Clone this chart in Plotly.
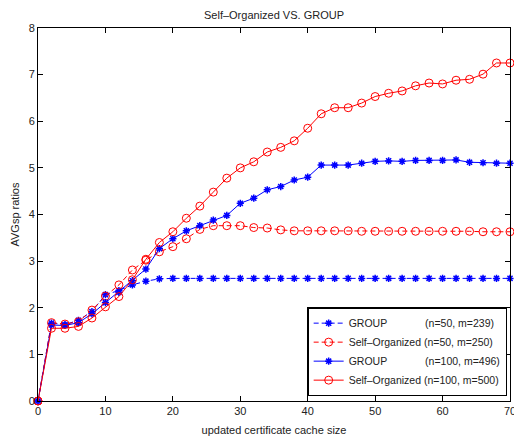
import plotly.graph_objects as go

cache_size = list(range(0, 72, 2))

group_n50 = [0, 1.67, 1.64, 1.73, 1.92, 2.28, 2.37, 2.49, 2.57, 2.62,
             2.63, 2.63, 2.63, 2.63, 2.63, 2.63, 2.63, 2.63, 2.63, 2.63,
             2.63, 2.63, 2.63, 2.63, 2.63, 2.63, 2.63, 2.63, 2.63, 2.63,
             2.63, 2.63, 2.63, 2.63, 2.63, 2.63]
selforg_n50 = [0, 1.68, 1.65, 1.70, 1.95, 2.25, 2.49, 2.81, 3.02, 3.20,
               3.31, 3.48, 3.68, 3.76, 3.76, 3.76, 3.72, 3.71, 3.67, 3.65,
               3.65, 3.65, 3.65, 3.65, 3.64, 3.64, 3.64, 3.64, 3.64, 3.64,
               3.64, 3.64, 3.64, 3.63, 3.63, 3.63]
group_n100 = [0, 1.63, 1.62, 1.68, 1.87, 2.11, 2.33, 2.58, 2.83, 3.27,
              3.48, 3.65, 3.76, 3.88, 3.98, 4.24, 4.35, 4.53, 4.60, 4.74,
              4.80, 5.06, 5.06, 5.06, 5.10, 5.14, 5.15, 5.14, 5.16, 5.16,
              5.16, 5.17, 5.12, 5.11, 5.10, 5.10]
selforg_n100 = [0, 1.56, 1.56, 1.60, 1.78, 2.02, 2.24, 2.60, 3.04, 3.40,
                3.63, 3.92, 4.18, 4.48, 4.78, 5.00, 5.13, 5.34, 5.44, 5.58,
                5.85, 6.16, 6.29, 6.29, 6.39, 6.53, 6.60, 6.65, 6.76, 6.82,
                6.80, 6.88, 6.90, 7.01, 7.25, 7.25]

NB = "\u00a0"
names = [
    "GROUP" + NB * 13 + "(n=50, m=239)",
    "Self\u2013Organized (n=50, m=250)",
    "GROUP" + NB * 13 + "(n=100, m=496)",
    "Self\u2013Organized (n=100, m=500)",
]

BLUE = "#0000ff"
RED = "#ff0000"

fig = go.Figure()
series = [
    (group_n50, names[0], BLUE, "asterisk-open", "5px,3px", 6),
    (selforg_n50, names[1], RED, "circle-open", "5px,3px", 8),
    (group_n100, names[2], BLUE, "asterisk-open", "solid", 6),
    (selforg_n100, names[3], RED, "circle-open", "solid", 8),
]
for ys, name, col, sym, dash, size in series:
    fig.add_trace(go.Scatter(
        x=cache_size, y=ys, name=name, mode="lines+markers",
        line=dict(color=col, width=1, dash=dash),
        marker=dict(symbol=sym, size=size, color=col,
                    line=dict(color=col, width=1.5 if "asterisk" in sym else 1)),
        cliponaxis=False,
    ))

axis_common = dict(
    showline=True, linecolor="black", linewidth=1, mirror="ticks",
    ticks="inside", ticklen=5, tickcolor="black", showgrid=False,
    zeroline=False, tickfont=dict(size=11, color="#222"), automargin=False,
    ticklabeloverflow="allow",
)

fig.update_layout(
    width=514, height=437,
    margin=dict(l=38, r=4, t=28, b=36),
    paper_bgcolor="white", plot_bgcolor="white",
    font=dict(family="Liberation Sans, Arial, sans-serif", size=11, color="#222"),
    title=dict(text="Self\u2013Organized VS. GROUP", x=0.5, xref="paper",
               y=1, yref="container", yanchor="top", pad=dict(t=11),
               font=dict(size=11, color="#222"), automargin=False),
    xaxis=dict(range=[0, 70], dtick=10, tick0=0,
               title=dict(text="updated certificate cache size", standoff=10,
                          font=dict(size=11)),
               **axis_common),
    yaxis=dict(range=[0, 8], dtick=1, tick0=0,
               title=dict(text="AVGsp ratios", standoff=6, font=dict(size=11)),
               **axis_common),
    legend=dict(x=0.994, y=0.013, xanchor="right", yanchor="bottom",
                bgcolor="white", bordercolor="black", borderwidth=1.5,
                font=dict(size=10.5, color="#222"), itemwidth=30,
                tracegroupgap=0),
    showlegend=True,
)

fig.write_html("out.html", config={"displayModeBar": False},
               post_script="document.body.style.margin='0';document.body.style.padding='0';")
